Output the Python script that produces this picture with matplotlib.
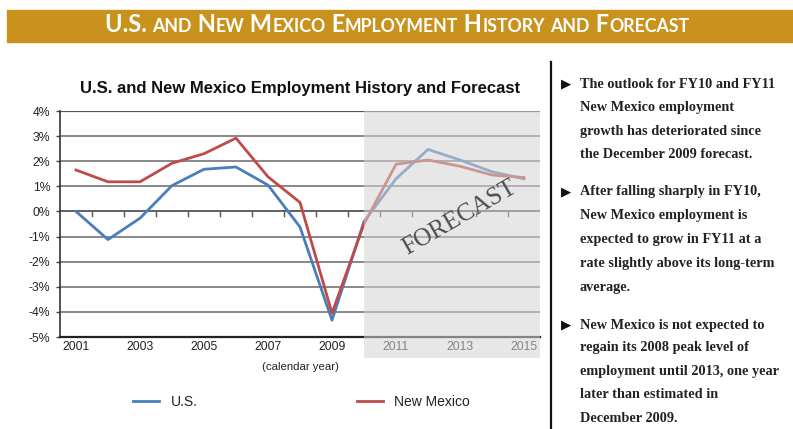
import matplotlib
matplotlib.use("Agg")
import matplotlib.pyplot as plt
from matplotlib.patches import Rectangle
from matplotlib.lines import Line2D

years = list(range(2001, 2016))
us = [0.0, -1.12, -0.27, 1.03, 1.68, 1.77, 1.05, -0.62, -4.33, -0.40, 1.30, 2.47, 2.05, 1.58, 1.30]
nm = [1.65, 1.18, 1.18, 1.92, 2.30, 2.92, 1.38, 0.36, -4.05, -0.50, 1.88, 2.05, 1.80, 1.45, 1.35]
yticks = [4, 3, 2, 1, 0, -1, -2, -3, -4, -5]
xlabels = [2001, 2003, 2005, 2007, 2009, 2011, 2013, 2015]
forecast_start = 2010
banner_title = "U.S. and New Mexico Employment History and Forecast"
chart_title = "U.S. and New Mexico Employment History and Forecast"
bullets = [
    ["The outlook for FY10 and FY11", "New Mexico employment",
     "growth has deteriorated since", "the December 2009 forecast."],
    ["After falling sharply in FY10,", "New Mexico employment is",
     "expected to grow in FY11 at a", "rate slightly above its long-term", "average."],
    ["New Mexico is not expected to", "regain its 2008 peak level of",
     "employment until 2013, one year", "later than estimated in", "December 2009."],
]

W, H = 793, 429
fig = plt.figure(figsize=(W / 100, H / 100), dpi=100)
fig.patch.set_facecolor("white")

def fx(px):
    return px / W

def fy(py):
    return 1 - py / H

# ---- banner ----
fig.patches.append(Rectangle((fx(7), fy(42)), fx(793) - fx(7), fy(10) - fy(42),
                             transform=fig.transFigure, color="#C8921C", zorder=0))

runs = []
for ch in banner_title:
    big = not ch.islower()
    if runs and runs[-1][1] == big:
        runs[-1][0] += ch.upper()
    else:
        runs.append([ch.upper(), big])

fig.canvas.draw()
renderer = fig.canvas.get_renderer()
big_fs, small_fs = 17.0, 12.8
arts = []
for txt, big in runs:
    t = fig.text(0, fy(32), txt, fontsize=big_fs if big else small_fs, color="white",
                 fontweight="bold", family="Lato", va="baseline", ha="left")
    arts.append(t)
widths = [t.get_window_extent(renderer).width for t in arts]
total = sum(widths)
x = 397 - total / 2
for t, w in zip(arts, widths):
    t.set_position((x / W, fy(32.5)))
    x += w

# ---- chart ----
ax = fig.add_axes([fx(60), fy(337), fx(540) - fx(60), fy(111) - fy(337)])
ax.set_xlim(years[0] - 0.5, years[-1] + 0.5)
ax.set_ylim(-5, 4)

for v in yticks:
    if v in (4, -5):
        continue
    ax.axhline(v, color="#7f7f7f" if v != 0 else "#555555", lw=1.3, zorder=1)
ax.axhline(4, color="#555555", lw=1.6, zorder=1)

for i in range(len(years) - 1):
    ax.plot([years[i] + 0.5] * 2, [0, -0.17], color="#555555", lw=1.0, zorder=1)

ax.plot(years, us, color="#4A7EBB", lw=2.0, zorder=2, label="U.S.")
ax.plot(years, nm, color="#BE4B48", lw=2.0, zorder=2, label="New Mexico")

ax.set_yticks(yticks)
ax.set_yticklabels([f"{v}%" for v in yticks], fontsize=8.8, family="Liberation Sans", color="#222222")
ax.set_xticks(xlabels)
ax.set_xticklabels([str(v) for v in xlabels], fontsize=8.8, family="Liberation Sans", color="#222222")
ax.tick_params(axis="x", length=0, pad=3)
ax.tick_params(axis="y", length=3, width=1, color="#444444", pad=4)
for s in ["top", "right"]:
    ax.spines[s].set_visible(False)
ax.spines["left"].set_color("#333333")
ax.spines["bottom"].set_color("#222222")
ax.spines["bottom"].set_linewidth(1.6)
ax.spines["left"].set_linewidth(1.2)

# forecast shading
ax.add_patch(Rectangle((forecast_start, -5.85), years[-1] + 0.5 - forecast_start, 9.85,
                       transform=ax.transData, color="#d4d4d4", alpha=0.55, zorder=3,
                       clip_on=False, lw=0))
ax.text(2013.0, -0.25, "FORECAST", rotation=30, fontsize=18, family="Liberation Serif",
        color="#4d4d4d", ha="center", va="center", zorder=4)

ax.set_xlabel("(calendar year)", fontsize=8.2, family="Liberation Sans", color="#222222", labelpad=6)
ax.set_title(chart_title, fontsize=12.0, fontweight="bold", family="Liberation Sans",
             color="#111111", pad=13)

leg = ax.legend(loc="upper left", bbox_to_anchor=(fx(118) / (fx(540) - fx(60)) - 0.12, -0.2),
                ncol=2, frameon=False, handlelength=1.9, columnspacing=11.5,
                prop={"family": "Liberation Sans", "size": 10})
for t in leg.get_texts():
    t.set_color("#222222")

fig.add_artist(Line2D([fx(551), fx(551)], [fy(62), fy(429)], color="#111111", lw=1.6,
                      transform=fig.transFigure))

line_y = [[84, 108, 131, 154], [192, 215, 239, 263, 287], [325, 348, 372, 394, 418]]
for para, ys in zip(bullets, line_y):
    fig.text(fx(561), fy(ys[0]), "\u25B6", fontsize=9.5, family="DejaVu Sans",
             color="#111111", va="center", ha="left")
    for line, yy in zip(para, ys):
        fig.text(fx(580), fy(yy), line, fontsize=10.3, family="Liberation Serif",
                 fontweight="bold", color="#222222", va="center", ha="left")

fig.savefig("out.png", dpi=100, facecolor="white")
